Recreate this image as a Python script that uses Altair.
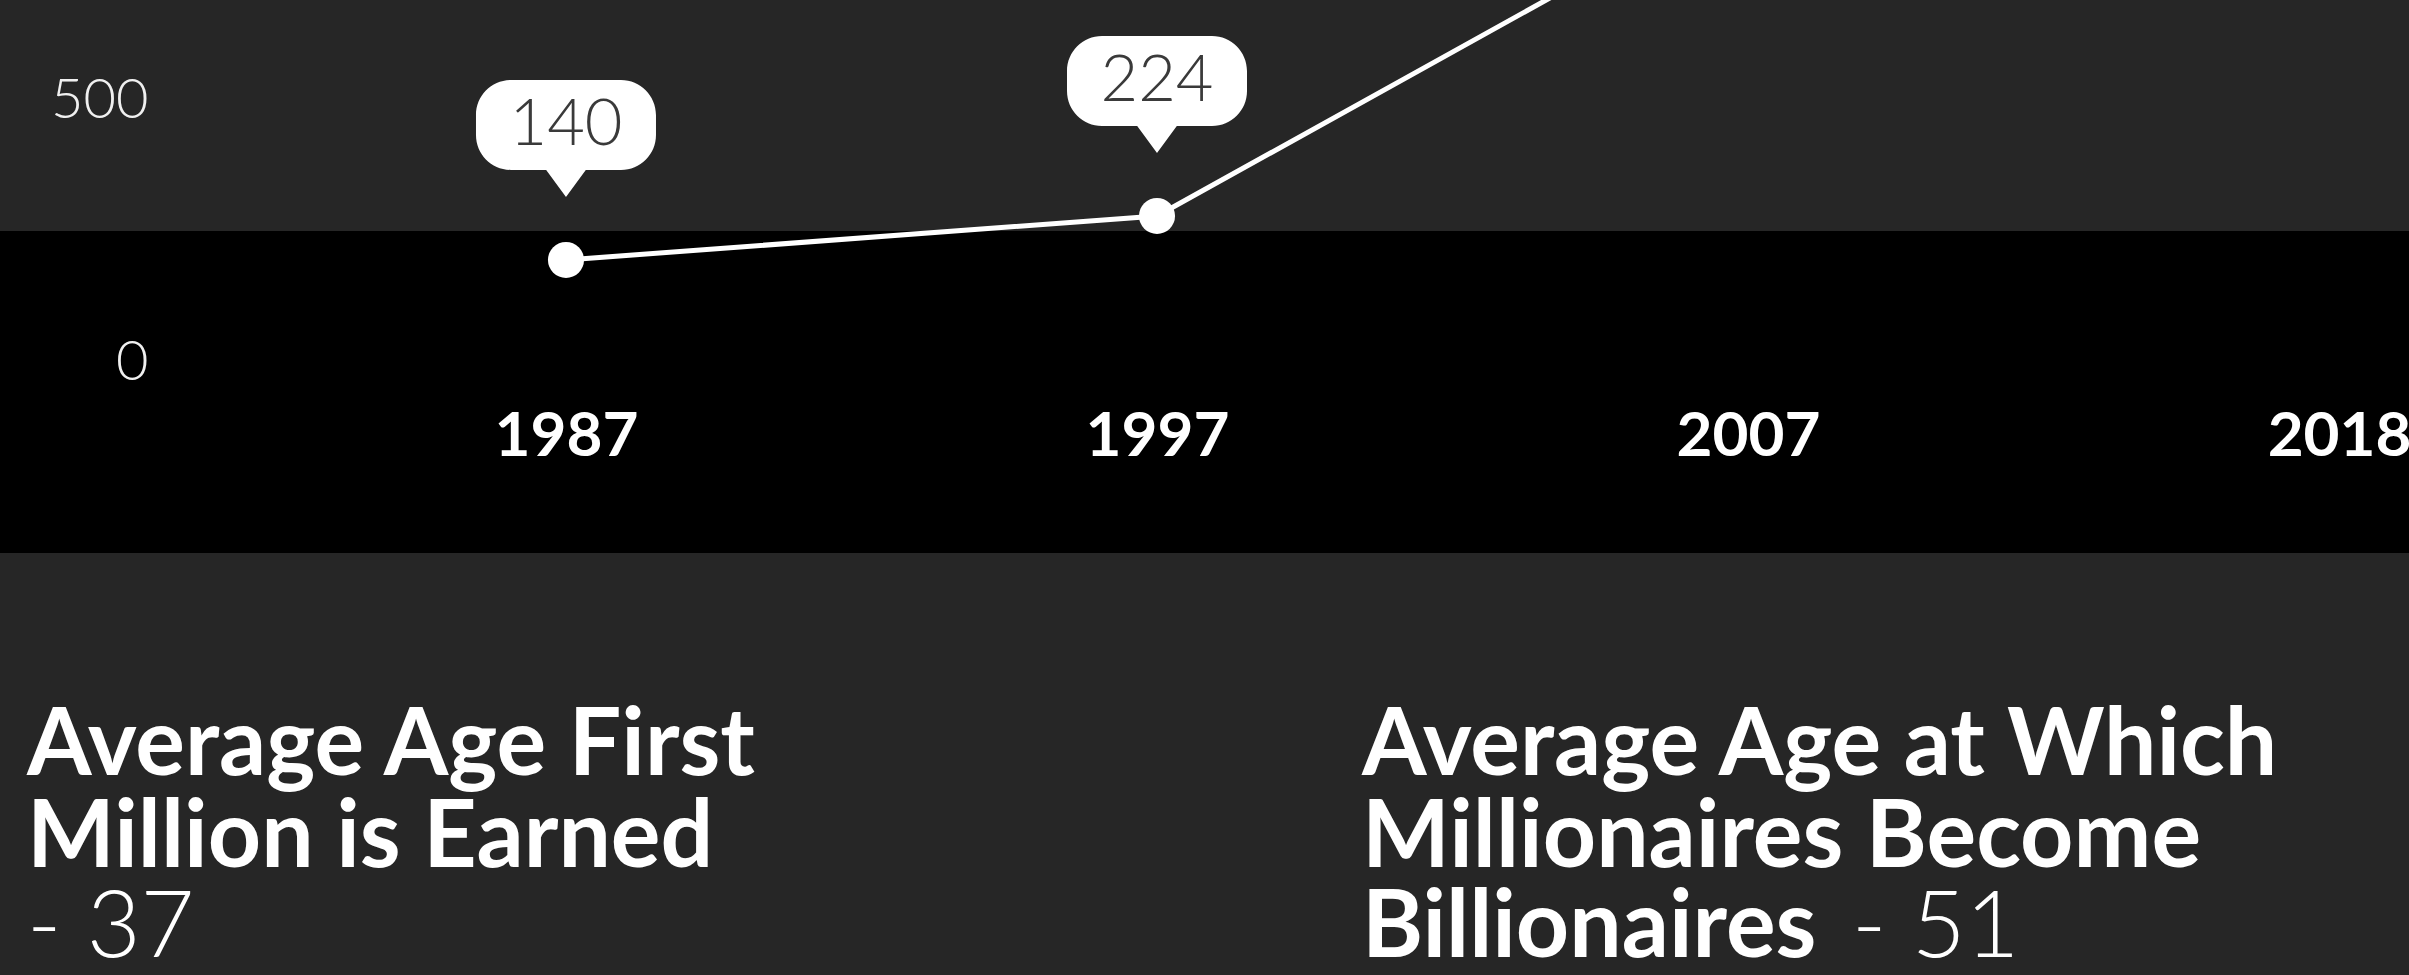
import altair as alt
import pandas as pd

# ---- data ----
axis_years = ["1987", "1997", "2007", "2018"]
years = ["1987", "1997", "2007"]
billionaires = [140, 224, 850]          # 2007 value estimated from the slope leaving the frame
callout_years = ["1987", "1997"]
callout_values = [140, 224]
y_tick_values = [0, 500]

left_heading = ["Average Age First", "Million is Earned"]
left_value = "- 37"
right_heading = ["Average Age at Which", "Millionaires Become", "Billionaires"]
right_value = "- 51"

# ---- layout / style ----
W, H = 2409, 975
BG = "#262626"
FONT = "Lato"

line_df = pd.DataFrame({"year": years, "value": billionaires})
call_df = pd.DataFrame({"year": callout_years, "value": callout_values,
                        "label": [str(v) for v in callout_values]})

x_enc = alt.X(
    "year:O",
    scale=alt.Scale(type="point", domain=axis_years, padding=0.538, align=0.89),
    axis=alt.Axis(orient="bottom", offset=-539, labelPadding=0, labelBaseline="middle",
                  labelAngle=0, labelFont=FONT, labelFontWeight="bold", labelFontSize=62,
                  labelColor="#ffffff", ticks=False, domain=False, grid=False,
                  labelOverlap=False, title=None, zindex=2),
)
y_enc = alt.Y(
    "value:Q",
    scale=alt.Scale(domain=[-1225.1, 636.3], nice=False, zero=False),
    axis=alt.Axis(values=y_tick_values, orient="left", offset=-148, labelPadding=0,
                  labelOffset=29, labelAlign="right", labelFont=FONT, labelFontWeight=300,
                  labelFontSize=56, labelColor="#f0f0f0", ticks=False, domain=False,
                  grid=False, labelOverlap=False, title=None, zindex=2),
)

band = alt.Chart(pd.DataFrame({"b": [0]})).mark_rect(color="#000000").encode(
    x=alt.value(0), x2=alt.value(W), y=alt.value(231), y2=alt.value(553)
)

line = alt.Chart(line_df).mark_line(color="#ffffff", strokeWidth=5, clip=True).encode(
    x=x_enc, y=y_enc
)
points = alt.Chart(line_df).mark_circle(color="#ffffff", opacity=1, size=1300, clip=True).encode(
    x=x_enc, y=y_enc
)

bubble_path = ("M-0.611,-2 L0.611,-2 A0.389,0.389 0 0 1 1,-1.611 L1,-1.389 "
               "A0.389,0.389 0 0 1 0.611,-1 L0.22,-1 L0,-0.70 L-0.22,-1 L-0.611,-1 "
               "A0.389,0.389 0 0 1 -1,-1.389 L-1,-1.611 A0.389,0.389 0 0 1 -0.611,-2 Z")
bubbles = alt.Chart(call_df).mark_point(shape=bubble_path, size=32400, filled=True,
                                        color="#ffffff", opacity=1, strokeWidth=0,
                                        clip=True).encode(x=x_enc, y=y_enc)
bubble_text = alt.Chart(call_df).mark_text(dy=-135, font=FONT, fontWeight=300, fontSize=65,
                                           color="#3a3a3a", baseline="middle",
                                           align="center", clip=True).encode(
    x=x_enc, y=y_enc, text="label:N"
)


def note(text, x, y, weight):
    return alt.Chart(pd.DataFrame({"t": [text]})).mark_text(
        align="left", baseline="alphabetic", font=FONT, fontSize=93,
        fontWeight=weight, color="#ffffff"
    ).encode(text="t:N", x=alt.value(x), y=alt.value(y))


notes = [
    note(left_heading[0], 27, 775, "bold"),
    note(left_heading[1], 27, 867, "bold"),
    note(left_value, 27, 957, 300),
    note(right_heading[0], 1362, 775, "bold"),
    note(right_heading[1], 1362, 867, "bold"),
    note(right_heading[2], 1362, 957, "bold"),
    note(right_value, 1852, 957, 300),
]

chart = alt.layer(band, line, points, bubbles, bubble_text, *notes).properties(
    width=W, height=H, background=BG, padding=0,
    autosize=alt.AutoSizeParams(type="none"),
).configure_view(strokeWidth=0)

chart.save("out.html", embed_options={"renderer": "svg", "actions": False})
